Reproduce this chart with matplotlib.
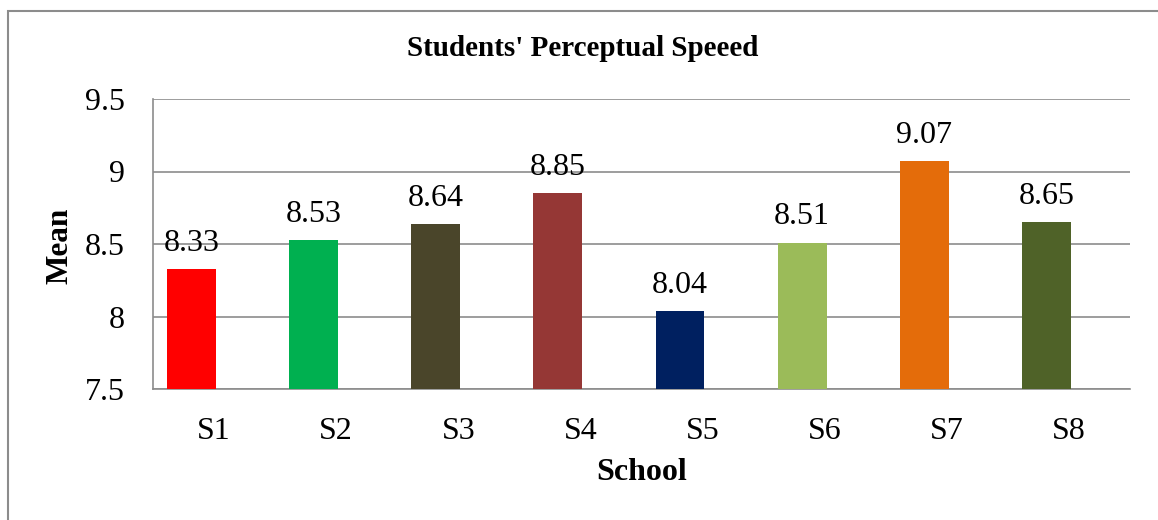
import matplotlib
matplotlib.use("Agg")
import matplotlib.pyplot as plt
from matplotlib.patches import Rectangle

schools = ["S1", "S2", "S3", "S4", "S5", "S6", "S7", "S8"]
means = [8.33, 8.53, 8.64, 8.85, 8.04, 8.51, 9.07, 8.65]
colors = ["#FF0000", "#00B050", "#4A452A", "#953735", "#002060", "#9BBB59", "#E46C0A", "#4F6228"]
yticks = [7.5, 8, 8.5, 9, 9.5]
ytick_labels = ["7.5", "8", "8.5", "9", "9.5"]

plt.rcParams['font.family'] = ['Liberation Serif', 'DejaVu Serif']

W, H = 1158, 520
fig = plt.figure(figsize=(W / 100, H / 100), dpi=100)
ax = fig.add_axes([153 / W, 1 - 389 / H, (1130 - 153) / W, (389 - 99) / H])

grid_c = "#8C8C8C"
x = list(range(len(schools)))
bx = [i - 0.185 for i in x]
bars = ax.bar(bx, [m - 7.5 for m in means], bottom=7.5, width=0.4, color=colors, zorder=3)

for xi, m in zip(bx, means):
    ax.annotate(f"{m:.2f}", (xi, m), xytext=(0, 8), textcoords="offset points",
                ha="center", va="bottom", fontsize=23, color="black", zorder=4)

ax.set_xlim(-0.5, 7.5)
ax.set_ylim(7.5, 9.5)
ax.set_yticks(yticks)
ax.set_yticklabels(ytick_labels)
ax.set_xticks(x)
ax.set_xticklabels(schools)
ax.tick_params(axis="both", length=0, labelsize=23)
ax.tick_params(axis="y", pad=20)
ax.tick_params(axis="x", pad=20)
ax.yaxis.grid(True, color=grid_c, linewidth=1.2, zorder=0)
ax.set_axisbelow(True)
for s in ["top", "right"]:
    ax.spines[s].set_visible(False)
for s in ["left", "bottom"]:
    ax.spines[s].set_color(grid_c)
    ax.spines[s].set_linewidth(1.2)

fig.text(583 / W, 1 - 48 / H, "Students' Perceptual Speeed", ha="center", va="center",
         fontsize=21, fontweight="bold")
fig.text(642 / W, 1 - 473 / H, "School", ha="center", va="center", fontsize=23, fontweight="bold")
fig.text(60 / W, 1 - 246 / H, "Mean", ha="center", va="center", fontsize=22.5,
         fontweight="bold", rotation=90)

fig.patches.append(Rectangle((8 / W, -0.5), 2, 1.5 - 11 / H, transform=fig.transFigure,
                             fill=False, edgecolor="#8C8C8C", linewidth=1.5))

fig.savefig("out.png", dpi=100)
